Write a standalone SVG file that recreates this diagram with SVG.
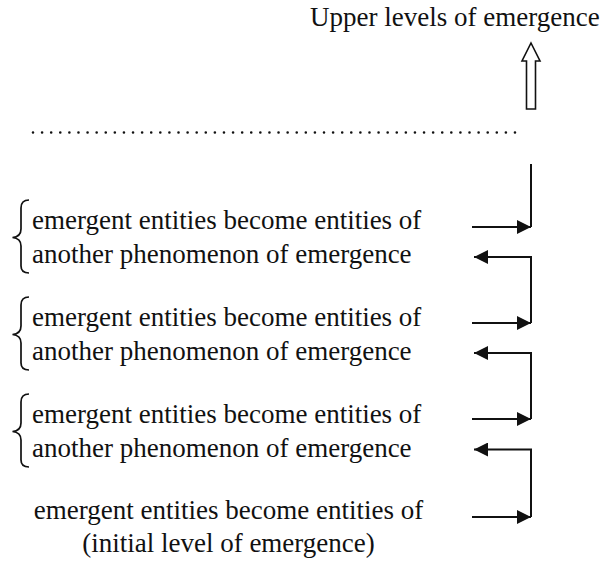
<svg xmlns="http://www.w3.org/2000/svg" width="608" height="562" viewBox="0 0 608 562">
  <style>
    text { font-family: "Liberation Serif", "Times New Roman", serif; font-size: 27px; fill: #111111; }
    .conn { fill: none; stroke: #111111; stroke-width: 2; }
    .brace { fill: none; stroke: #111111; stroke-width: 1.7; }
  </style>
  <defs>
    <marker id="head" viewBox="0 0 14 14" refX="14" refY="7" markerWidth="14" markerHeight="14" markerUnits="userSpaceOnUse" orient="auto">
      <path d="M0,0 L14,7 L0,14 Z" fill="#111111"/>
    </marker>
    <path id="brace" d="M29,0 C23.5,0 21,2.5 21,8 L21,29 C21,34 18,37 12.5,37.5 C18,38 21,41 21,46 L21,66 C21,71 23.5,73 29,73"/>
  </defs>

  <rect width="608" height="562" fill="#ffffff"/>

  <!-- top label and hollow upward arrow -->
  <g id="upper">
    <text x="310" y="26">Upper levels of emergence</text>
    <path d="M531,43 L540,61 L535.5,61 L535.5,109 L526.5,109 L526.5,61 L522,61 Z" fill="#ffffff" stroke="#111111" stroke-width="1.6" stroke-linejoin="miter"/>
  </g>

  <!-- dotted separator -->
  <g id="separator">
    <line x1="33" y1="132.5" x2="516" y2="132.5" stroke="#111111" stroke-width="2.6" stroke-linecap="round" stroke-dasharray="0 9.094"/>
  </g>

  <!-- levels -->
  <g id="level3">
    <use href="#brace" class="brace" transform="translate(0,200)"/>
    <text x="32" y="229">emergent entities become entities of</text>
    <text x="32" y="263">another phenomenon of emergence</text>
  </g>
  <g id="level2">
    <use href="#brace" class="brace" transform="translate(0,297)"/>
    <text x="32" y="326">emergent entities become entities of</text>
    <text x="32" y="360">another phenomenon of emergence</text>
  </g>
  <g id="level1">
    <use href="#brace" class="brace" transform="translate(0,394)"/>
    <text x="32" y="423">emergent entities become entities of</text>
    <text x="32" y="457">another phenomenon of emergence</text>
  </g>
  <g id="level0">
    <text x="228.5" y="519" text-anchor="middle">emergent entities become entities of</text>
    <text x="228.5" y="552" text-anchor="middle">(initial level of emergence)</text>
  </g>

  <!-- connectors -->
  <g id="connectors">
    <path class="conn" d="M531,164 L531,227"/>
    <path class="conn" d="M472,227 L531,227" marker-end="url(#head)"/>
    <path class="conn" d="M531,323 L531,257 L474,257" marker-end="url(#head)"/>
    <path class="conn" d="M472,323 L531,323" marker-end="url(#head)"/>
    <path class="conn" d="M531,419 L531,353 L474,353" marker-end="url(#head)"/>
    <path class="conn" d="M472,419 L531,419" marker-end="url(#head)"/>
    <path class="conn" d="M531,517 L531,449.5 L474,449.5" marker-end="url(#head)"/>
    <path class="conn" d="M472,517 L531,517" marker-end="url(#head)"/>
  </g>
</svg>
